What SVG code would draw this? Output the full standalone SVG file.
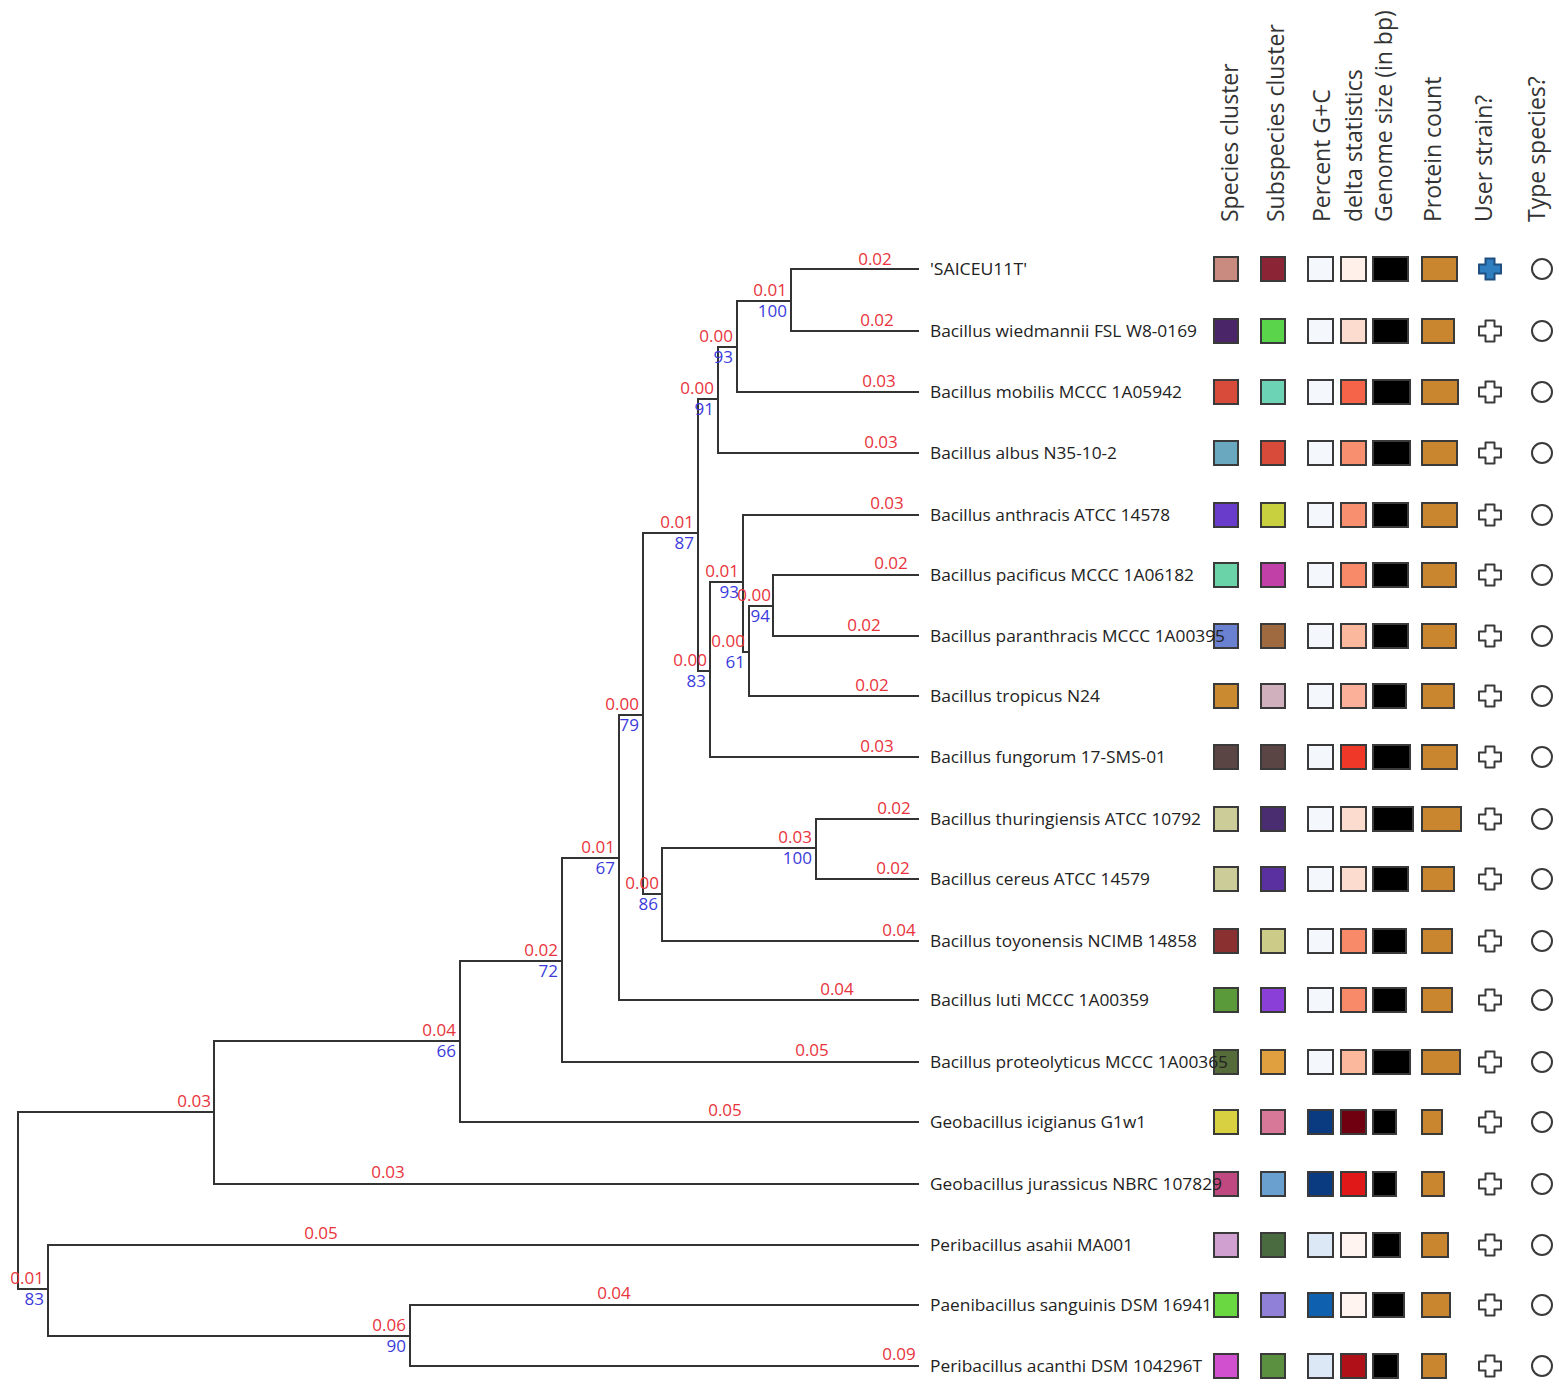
<svg xmlns="http://www.w3.org/2000/svg" width="1559" height="1388" viewBox="0 0 1559 1388">
<style>
.br{stroke:#333;stroke-width:2;fill:none;stroke-linecap:square}
.rl{font-family:"Open Sans","Noto Sans","Liberation Sans",sans-serif;font-size:17px;fill:#e8333c}
.bl{font-family:"Open Sans","Noto Sans","Liberation Sans",sans-serif;font-size:17px;fill:#3b3bdc}
.in text{text-anchor:end}
.lf .rl{text-anchor:middle}
.nm{font-family:"Open Sans","Noto Sans","Liberation Sans",sans-serif;font-size:17px;fill:#222}
.hd{font-family:"Open Sans","Noto Sans","Liberation Sans",sans-serif;font-size:23px;fill:#333}
.c{stroke:#3a3a3a;stroke-width:2}
.us{fill:#fff;stroke:#3a3a3a;stroke-width:2;stroke-linejoin:round}
.ts{fill:none;stroke:#3a3a3a;stroke-width:2}
</style>
<defs>
<path id="cross" d="M-4.5,-10.5 H4.5 V-4.5 H11 V4.5 H4.5 V10.5 H-4.5 V4.5 H-11 V-4.5 H-4.5 Z"/>
</defs>
<rect width="1559" height="1388" fill="#fff"/>

<g id="headers">
<text class="hd" transform="translate(1238,222) rotate(-90)">Species cluster</text>
<text class="hd" transform="translate(1284,222) rotate(-90)">Subspecies cluster</text>
<text class="hd" transform="translate(1330,222) rotate(-90)">Percent G+C</text>
<text class="hd" transform="translate(1362,222) rotate(-90)">delta statistics</text>
<text class="hd" transform="translate(1392,222) rotate(-90)">Genome size (in bp)</text>
<text class="hd" transform="translate(1441,222) rotate(-90)">Protein count</text>
<text class="hd" transform="translate(1492,222) rotate(-90)">User strain?</text>
<text class="hd" transform="translate(1545,222) rotate(-90)">Type species?</text>
</g>

<g id="connectors">
<path class="br" d="M18,1112 V1289 M18,1112 H214 M18,1289 H48"/>
<path class="br" d="M214,1041 V1184 M214,1041 H460 M214,1184 H918"/>
<path class="br" d="M460,961 V1122 M460,961 H562 M460,1122 H918"/>
<path class="br" d="M562,858 V1062 M562,858 H619 M562,1062 H918"/>
<path class="br" d="M619,715 V1000 M619,715 H643 M619,1000 H918"/>
<path class="br" d="M643,533 V894 M643,533 H698 M643,894 H662"/>
<path class="br" d="M662,848 V941 M662,848 H816 M662,941 H918"/>
<path class="br" d="M816,819 V879 M816,819 H918 M816,879 H918"/>
<path class="br" d="M698,399 V671 M698,399 H718 M698,671 H710"/>
<path class="br" d="M718,347 V453 M718,347 H737 M718,453 H918"/>
<path class="br" d="M737,301 V392 M737,301 H791 M737,392 H918"/>
<path class="br" d="M791,269 V331 M791,269 H918 M791,331 H918"/>
<path class="br" d="M710,582 V757 M710,582 H743 M710,757 H918"/>
<path class="br" d="M743,515 V652 M743,515 H918 M743,652 H749"/>
<path class="br" d="M749,606 V696 M749,606 H773 M749,696 H918"/>
<path class="br" d="M773,575 V636 M773,575 H918 M773,636 H918"/>
<path class="br" d="M48,1245 V1336 M48,1245 H918 M48,1336 H410"/>
<path class="br" d="M410,1305 V1366 M410,1305 H918 M410,1366 H918"/>
</g>

<g id="internal-labels">
<g id="node-A" class="in"><text class="rl" x="787" y="296">0.01</text><text class="bl" x="787" y="317">100</text></g>
<g id="node-B" class="in"><text class="rl" x="733" y="342">0.00</text><text class="bl" x="733" y="363">93</text></g>
<g id="node-C" class="in"><text class="rl" x="714" y="394">0.00</text><text class="bl" x="714" y="415">91</text></g>
<g id="node-D" class="in"><text class="rl" x="694" y="528">0.01</text><text class="bl" x="694" y="549">87</text></g>
<g id="node-E" class="in"><text class="rl" x="707" y="666">0.00</text><text class="bl" x="706" y="687">83</text></g>
<g id="node-F" class="in"><text class="rl" x="739" y="577">0.01</text><text class="bl" x="739" y="598">93</text></g>
<g id="node-G" class="in"><text class="rl" x="745" y="647">0.00</text><text class="bl" x="745" y="668">61</text></g>
<g id="node-H" class="in"><text class="rl" x="771" y="601">0.00</text><text class="bl" x="770" y="622">94</text></g>
<g id="node-I" class="in"><text class="rl" x="639" y="710">0.00</text><text class="bl" x="639" y="731">79</text></g>
<g id="node-Jp" class="in"><text class="rl" x="659" y="889">0.00</text><text class="bl" x="658" y="910">86</text></g>
<g id="node-J" class="in"><text class="rl" x="812" y="843">0.03</text><text class="bl" x="812" y="864">100</text></g>
<g id="node-K" class="in"><text class="rl" x="615" y="853">0.01</text><text class="bl" x="615" y="874">67</text></g>
<g id="node-L" class="in"><text class="rl" x="558" y="956">0.02</text><text class="bl" x="558" y="977">72</text></g>
<g id="node-M" class="in"><text class="rl" x="456" y="1036">0.04</text><text class="bl" x="456" y="1057">66</text></g>
<g id="node-N" class="in"><text class="rl" x="211" y="1107">0.03</text></g>
<g id="node-O" class="in"><text class="rl" x="44" y="1284">0.01</text><text class="bl" x="44" y="1305">83</text></g>
<g id="node-P" class="in"><text class="rl" x="406" y="1331">0.06</text><text class="bl" x="406" y="1352">90</text></g>
</g>

<g id="leaf-1" class="lf">
<rect class="c" x="1214" y="257" width="24" height="24" fill="#c98a80"/><rect class="c" x="1261" y="257" width="24" height="24" fill="#8b2535"/><rect class="c" x="1308" y="257" width="25" height="24" fill="#f4f8fc"/><rect class="c" x="1341" y="257" width="25" height="24" fill="#fff0ea"/><rect class="c" x="1373" y="257" width="35" height="24" fill="#000"/><rect class="c" x="1422" y="257" width="35" height="24" fill="#c9862e"/>
<use href="#cross" x="1490" y="269" style="fill:#2f7fc0;stroke:#1f4f80;stroke-width:2"/><circle class="ts" cx="1542" cy="269" r="10"/>
<text class="rl" x="875" y="265">0.02</text><text class="nm" x="930" y="275" textLength="97" lengthAdjust="spacingAndGlyphs">'SAICEU11T'</text></g>

<g id="leaf-2" class="lf">
<rect class="c" x="1214" y="319" width="24" height="24" fill="#4a2668"/><rect class="c" x="1261" y="319" width="24" height="24" fill="#5ad44a"/><rect class="c" x="1308" y="319" width="25" height="24" fill="#f4f8fc"/><rect class="c" x="1341" y="319" width="25" height="24" fill="#fddcd0"/><rect class="c" x="1373" y="319" width="35" height="24" fill="#000"/><rect class="c" x="1422" y="319" width="32" height="24" fill="#c9862e"/>
<use href="#cross" x="1490" y="331" class="us"/><circle class="ts" cx="1542" cy="331" r="10"/>
<text class="rl" x="877" y="326">0.02</text><text class="nm" x="930" y="337" textLength="267" lengthAdjust="spacingAndGlyphs">Bacillus wiedmannii FSL W8-0169</text></g>

<g id="leaf-3" class="lf">
<rect class="c" x="1214" y="380" width="24" height="24" fill="#d84a3a"/><rect class="c" x="1261" y="380" width="24" height="24" fill="#6cd4b4"/><rect class="c" x="1308" y="380" width="25" height="24" fill="#f4f8fc"/><rect class="c" x="1341" y="380" width="25" height="24" fill="#f56448"/><rect class="c" x="1373" y="380" width="37" height="24" fill="#000"/><rect class="c" x="1422" y="380" width="36" height="24" fill="#c9862e"/>
<use href="#cross" x="1490" y="392" class="us"/><circle class="ts" cx="1542" cy="392" r="10"/>
<text class="rl" x="879" y="387">0.03</text><text class="nm" x="930" y="398" textLength="252" lengthAdjust="spacingAndGlyphs">Bacillus mobilis MCCC 1A05942</text></g>

<g id="leaf-4" class="lf">
<rect class="c" x="1214" y="441" width="24" height="24" fill="#6aa8c0"/><rect class="c" x="1261" y="441" width="24" height="24" fill="#d84a3a"/><rect class="c" x="1308" y="441" width="25" height="24" fill="#f4f8fc"/><rect class="c" x="1341" y="441" width="25" height="24" fill="#f89070"/><rect class="c" x="1373" y="441" width="37" height="24" fill="#000"/><rect class="c" x="1422" y="441" width="35" height="24" fill="#c9862e"/>
<use href="#cross" x="1490" y="453" class="us"/><circle class="ts" cx="1542" cy="453" r="10"/>
<text class="rl" x="881" y="448">0.03</text><text class="nm" x="930" y="459" textLength="187" lengthAdjust="spacingAndGlyphs">Bacillus albus N35-10-2</text></g>

<g id="leaf-5" class="lf">
<rect class="c" x="1214" y="503" width="24" height="24" fill="#6a3ccc"/><rect class="c" x="1261" y="503" width="24" height="24" fill="#c8d040"/><rect class="c" x="1308" y="503" width="25" height="24" fill="#f4f8fc"/><rect class="c" x="1341" y="503" width="25" height="24" fill="#f89070"/><rect class="c" x="1373" y="503" width="35" height="24" fill="#000"/><rect class="c" x="1422" y="503" width="35" height="24" fill="#c9862e"/>
<use href="#cross" x="1490" y="515" class="us"/><circle class="ts" cx="1542" cy="515" r="10"/>
<text class="rl" x="887" y="509">0.03</text><text class="nm" x="930" y="521" textLength="240" lengthAdjust="spacingAndGlyphs">Bacillus anthracis ATCC 14578</text></g>

<g id="leaf-6" class="lf">
<rect class="c" x="1214" y="563" width="24" height="24" fill="#6ad4a8"/><rect class="c" x="1261" y="563" width="24" height="24" fill="#c040a8"/><rect class="c" x="1308" y="563" width="25" height="24" fill="#f4f8fc"/><rect class="c" x="1341" y="563" width="25" height="24" fill="#f88a6a"/><rect class="c" x="1373" y="563" width="35" height="24" fill="#000"/><rect class="c" x="1422" y="563" width="34" height="24" fill="#c9862e"/>
<use href="#cross" x="1490" y="575" class="us"/><circle class="ts" cx="1542" cy="575" r="10"/>
<text class="rl" x="891" y="569">0.02</text><text class="nm" x="930" y="581" textLength="264" lengthAdjust="spacingAndGlyphs">Bacillus pacificus MCCC 1A06182</text></g>

<g id="leaf-7" class="lf">
<rect class="c" x="1214" y="624" width="24" height="24" fill="#6a80d0"/><rect class="c" x="1261" y="624" width="24" height="24" fill="#a06a40"/><rect class="c" x="1308" y="624" width="25" height="24" fill="#f4f8fc"/><rect class="c" x="1341" y="624" width="25" height="24" fill="#fbb89c"/><rect class="c" x="1373" y="624" width="35" height="24" fill="#000"/><rect class="c" x="1422" y="624" width="34" height="24" fill="#c9862e"/>
<use href="#cross" x="1490" y="636" class="us"/><circle class="ts" cx="1542" cy="636" r="10"/>
<text class="rl" x="864" y="631">0.02</text><text class="nm" x="930" y="642" textLength="295" lengthAdjust="spacingAndGlyphs">Bacillus paranthracis MCCC 1A00395</text></g>

<g id="leaf-8" class="lf">
<rect class="c" x="1214" y="684" width="24" height="24" fill="#c98a30"/><rect class="c" x="1261" y="684" width="24" height="24" fill="#d0b0bc"/><rect class="c" x="1308" y="684" width="25" height="24" fill="#f4f8fc"/><rect class="c" x="1341" y="684" width="25" height="24" fill="#fbb09a"/><rect class="c" x="1373" y="684" width="33" height="24" fill="#000"/><rect class="c" x="1422" y="684" width="32" height="24" fill="#c9862e"/>
<use href="#cross" x="1490" y="696" class="us"/><circle class="ts" cx="1542" cy="696" r="10"/>
<text class="rl" x="872" y="691">0.02</text><text class="nm" x="930" y="702" textLength="170" lengthAdjust="spacingAndGlyphs">Bacillus tropicus N24</text></g>

<g id="leaf-9" class="lf">
<rect class="c" x="1214" y="745" width="24" height="24" fill="#5a4444"/><rect class="c" x="1261" y="745" width="24" height="24" fill="#5a4444"/><rect class="c" x="1308" y="745" width="25" height="24" fill="#f4f8fc"/><rect class="c" x="1341" y="745" width="25" height="24" fill="#f03828"/><rect class="c" x="1373" y="745" width="37" height="24" fill="#000"/><rect class="c" x="1422" y="745" width="35" height="24" fill="#c9862e"/>
<use href="#cross" x="1490" y="757" class="us"/><circle class="ts" cx="1542" cy="757" r="10"/>
<text class="rl" x="877" y="752">0.03</text><text class="nm" x="930" y="763" textLength="236" lengthAdjust="spacingAndGlyphs">Bacillus fungorum 17-SMS-01</text></g>

<g id="leaf-10" class="lf">
<rect class="c" x="1214" y="807" width="24" height="24" fill="#cccc99"/><rect class="c" x="1261" y="807" width="24" height="24" fill="#4a2c70"/><rect class="c" x="1308" y="807" width="25" height="24" fill="#f4f8fc"/><rect class="c" x="1341" y="807" width="25" height="24" fill="#fddcd0"/><rect class="c" x="1373" y="807" width="40" height="24" fill="#000"/><rect class="c" x="1422" y="807" width="39" height="24" fill="#c9862e"/>
<use href="#cross" x="1490" y="819" class="us"/><circle class="ts" cx="1542" cy="819" r="10"/>
<text class="rl" x="894" y="814">0.02</text><text class="nm" x="930" y="825" textLength="271" lengthAdjust="spacingAndGlyphs">Bacillus thuringiensis ATCC 10792</text></g>

<g id="leaf-11" class="lf">
<rect class="c" x="1214" y="867" width="24" height="24" fill="#cccc99"/><rect class="c" x="1261" y="867" width="24" height="24" fill="#5a30a0"/><rect class="c" x="1308" y="867" width="25" height="24" fill="#f4f8fc"/><rect class="c" x="1341" y="867" width="25" height="24" fill="#fddcd0"/><rect class="c" x="1373" y="867" width="35" height="24" fill="#000"/><rect class="c" x="1422" y="867" width="32" height="24" fill="#c9862e"/>
<use href="#cross" x="1490" y="879" class="us"/><circle class="ts" cx="1542" cy="879" r="10"/>
<text class="rl" x="893" y="874">0.02</text><text class="nm" x="930" y="885" textLength="220" lengthAdjust="spacingAndGlyphs">Bacillus cereus ATCC 14579</text></g>

<g id="leaf-12" class="lf">
<rect class="c" x="1214" y="929" width="24" height="24" fill="#8a3030"/><rect class="c" x="1261" y="929" width="24" height="24" fill="#cccc88"/><rect class="c" x="1308" y="929" width="25" height="24" fill="#f4f8fc"/><rect class="c" x="1341" y="929" width="25" height="24" fill="#f88a6a"/><rect class="c" x="1373" y="929" width="33" height="24" fill="#000"/><rect class="c" x="1422" y="929" width="30" height="24" fill="#c9862e"/>
<use href="#cross" x="1490" y="941" class="us"/><circle class="ts" cx="1542" cy="941" r="10"/>
<text class="rl" x="899" y="936">0.04</text><text class="nm" x="930" y="947" textLength="267" lengthAdjust="spacingAndGlyphs">Bacillus toyonensis NCIMB 14858</text></g>

<g id="leaf-13" class="lf">
<rect class="c" x="1214" y="988" width="24" height="24" fill="#5a9a3a"/><rect class="c" x="1261" y="988" width="24" height="24" fill="#8a40d8"/><rect class="c" x="1308" y="988" width="25" height="24" fill="#f4f8fc"/><rect class="c" x="1341" y="988" width="25" height="24" fill="#f88a6a"/><rect class="c" x="1373" y="988" width="33" height="24" fill="#000"/><rect class="c" x="1422" y="988" width="30" height="24" fill="#c9862e"/>
<use href="#cross" x="1490" y="1000" class="us"/><circle class="ts" cx="1542" cy="1000" r="10"/>
<text class="rl" x="837" y="995">0.04</text><text class="nm" x="930" y="1006" textLength="219" lengthAdjust="spacingAndGlyphs">Bacillus luti MCCC 1A00359</text></g>

<g id="leaf-14" class="lf">
<rect class="c" x="1214" y="1050" width="24" height="24" fill="#556b3a"/><rect class="c" x="1261" y="1050" width="24" height="24" fill="#e0a040"/><rect class="c" x="1308" y="1050" width="25" height="24" fill="#f4f8fc"/><rect class="c" x="1341" y="1050" width="25" height="24" fill="#fbb89c"/><rect class="c" x="1373" y="1050" width="37" height="24" fill="#000"/><rect class="c" x="1422" y="1050" width="38" height="24" fill="#c9862e"/>
<use href="#cross" x="1490" y="1062" class="us"/><circle class="ts" cx="1542" cy="1062" r="10"/>
<text class="rl" x="812" y="1056">0.05</text><text class="nm" x="930" y="1068" textLength="298" lengthAdjust="spacingAndGlyphs">Bacillus proteolyticus MCCC 1A00365</text></g>

<g id="leaf-15" class="lf">
<rect class="c" x="1214" y="1110" width="24" height="24" fill="#d8d040"/><rect class="c" x="1261" y="1110" width="24" height="24" fill="#d87898"/><rect class="c" x="1308" y="1110" width="25" height="24" fill="#0a3a80"/><rect class="c" x="1341" y="1110" width="25" height="24" fill="#700010"/><rect class="c" x="1373" y="1110" width="23" height="24" fill="#000"/><rect class="c" x="1422" y="1110" width="20" height="24" fill="#c9862e"/>
<use href="#cross" x="1490" y="1122" class="us"/><circle class="ts" cx="1542" cy="1122" r="10"/>
<text class="rl" x="725" y="1116">0.05</text><text class="nm" x="930" y="1128" textLength="216" lengthAdjust="spacingAndGlyphs">Geobacillus icigianus G1w1</text></g>

<g id="leaf-16" class="lf">
<rect class="c" x="1214" y="1172" width="24" height="24" fill="#c04880"/><rect class="c" x="1261" y="1172" width="24" height="24" fill="#6aa0d0"/><rect class="c" x="1308" y="1172" width="25" height="24" fill="#0a3a80"/><rect class="c" x="1341" y="1172" width="25" height="24" fill="#e01818"/><rect class="c" x="1373" y="1172" width="23" height="24" fill="#000"/><rect class="c" x="1422" y="1172" width="22" height="24" fill="#c9862e"/>
<use href="#cross" x="1490" y="1184" class="us"/><circle class="ts" cx="1542" cy="1184" r="10"/>
<text class="rl" x="388" y="1178">0.03</text><text class="nm" x="930" y="1190" textLength="292" lengthAdjust="spacingAndGlyphs">Geobacillus jurassicus NBRC 107829</text></g>

<g id="leaf-17" class="lf">
<rect class="c" x="1214" y="1233" width="24" height="24" fill="#d0a0d0"/><rect class="c" x="1261" y="1233" width="24" height="24" fill="#4a6a40"/><rect class="c" x="1308" y="1233" width="25" height="24" fill="#dce8f6"/><rect class="c" x="1341" y="1233" width="25" height="24" fill="#fff4f0"/><rect class="c" x="1373" y="1233" width="27" height="24" fill="#000"/><rect class="c" x="1422" y="1233" width="26" height="24" fill="#c9862e"/>
<use href="#cross" x="1490" y="1245" class="us"/><circle class="ts" cx="1542" cy="1245" r="10"/>
<text class="rl" x="321" y="1239">0.05</text><text class="nm" x="930" y="1251" textLength="203" lengthAdjust="spacingAndGlyphs">Peribacillus asahii MA001</text></g>

<g id="leaf-18" class="lf">
<rect class="c" x="1214" y="1293" width="24" height="24" fill="#6ad840"/><rect class="c" x="1261" y="1293" width="24" height="24" fill="#9080d8"/><rect class="c" x="1308" y="1293" width="25" height="24" fill="#1060b0"/><rect class="c" x="1341" y="1293" width="25" height="24" fill="#fff4f0"/><rect class="c" x="1373" y="1293" width="31" height="24" fill="#000"/><rect class="c" x="1422" y="1293" width="28" height="24" fill="#c9862e"/>
<use href="#cross" x="1490" y="1305" class="us"/><circle class="ts" cx="1542" cy="1305" r="10"/>
<text class="rl" x="614" y="1299">0.04</text><text class="nm" x="930" y="1311" textLength="282" lengthAdjust="spacingAndGlyphs">Paenibacillus sanguinis DSM 16941</text></g>

<g id="leaf-19" class="lf">
<rect class="c" x="1214" y="1354" width="24" height="24" fill="#d050d0"/><rect class="c" x="1261" y="1354" width="24" height="24" fill="#5a9040"/><rect class="c" x="1308" y="1354" width="25" height="24" fill="#dce8f6"/><rect class="c" x="1341" y="1354" width="25" height="24" fill="#b01018"/><rect class="c" x="1373" y="1354" width="25" height="24" fill="#000"/><rect class="c" x="1422" y="1354" width="24" height="24" fill="#c9862e"/>
<use href="#cross" x="1490" y="1366" class="us"/><circle class="ts" cx="1542" cy="1366" r="10"/>
<text class="rl" x="899" y="1360">0.09</text><text class="nm" x="930" y="1372" textLength="272" lengthAdjust="spacingAndGlyphs">Peribacillus acanthi DSM 104296T</text></g>
</svg>
